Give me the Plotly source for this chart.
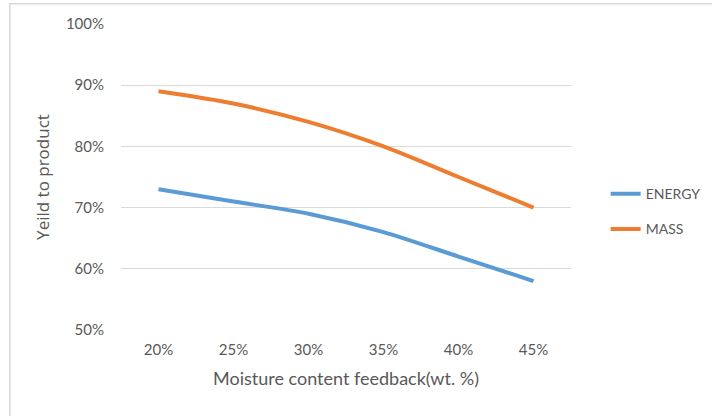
import plotly.graph_objects as go

# Moisture content in the feed and the resulting product yields (%)
moisture = ["20%", "25%", "30%", "35%", "40%", "45%"]
energy_yield = [73, 71, 69, 66, 62, 58]
mass_yield = [89, 87, 84, 80, 75, 70]
y_ticks = [50, 60, 70, 80, 90, 100]
y_labels = [f"{v}%" for v in y_ticks]

BLUE = "#5B9BD5"
ORANGE = "#ED7D31"
TEXT = "#595959"
FONT = "Lato"

fig = go.Figure()
fig.add_trace(go.Scatter(
    x=moisture, y=energy_yield, name="ENERGY", mode="lines",
    line=dict(color=BLUE, width=4, shape="spline", smoothing=0.8),
    legendgroup="energy",
))
fig.add_trace(go.Scatter(
    x=moisture, y=mass_yield, name="MASS", mode="lines",
    line=dict(color=ORANGE, width=4, shape="spline", smoothing=0.8),
    legendgroup="mass",
))

# Chart-area border
fig.add_shape(type="rect", xref="paper", yref="paper",
              x0=-0.247, x1=1.33, y0=-0.32, y1=1.066,
              line=dict(color="#D9D9D9", width=1.5), fillcolor="rgba(0,0,0,0)",
              layer="below")

fig.update_layout(
    width=712, height=416,
    margin=dict(l=121, r=141, t=24, b=86, autoexpand=False),
    paper_bgcolor="white", plot_bgcolor="white",
    font=dict(family=FONT, color=TEXT, size=13),
    showlegend=True,
    legend=dict(x=1.077, xanchor="left", y=0.387, yanchor="middle",
                traceorder="grouped", tracegroupgap=14,
                font=dict(family=FONT, size=14, color=TEXT),
                bgcolor="rgba(0,0,0,0)"),
    xaxis=dict(
        type="category", range=[-0.5, 5.5],
        showgrid=False, zeroline=False, showline=False,
        ticks="", tickfont=dict(size=15, color=TEXT),
        ticklabelstandoff=9,
        title=dict(text="Moisture content feedback(wt. %)",
                   font=dict(size=18, color=TEXT), standoff=15),
    ),
    yaxis=dict(
        range=[50, 100], tickmode="array", tickvals=y_ticks, ticktext=y_labels,
        showgrid=True, gridcolor="#D9D9D9", gridwidth=1.2,
        zeroline=False, showline=False, ticks="",
        tickfont=dict(size=15, color=TEXT), ticklabelstandoff=16,
        title=dict(text="Yeild to product",
                   font=dict(family="Open Sans", size=17, color=TEXT), standoff=11),
    ),
)

fig.write_html("out.html")
